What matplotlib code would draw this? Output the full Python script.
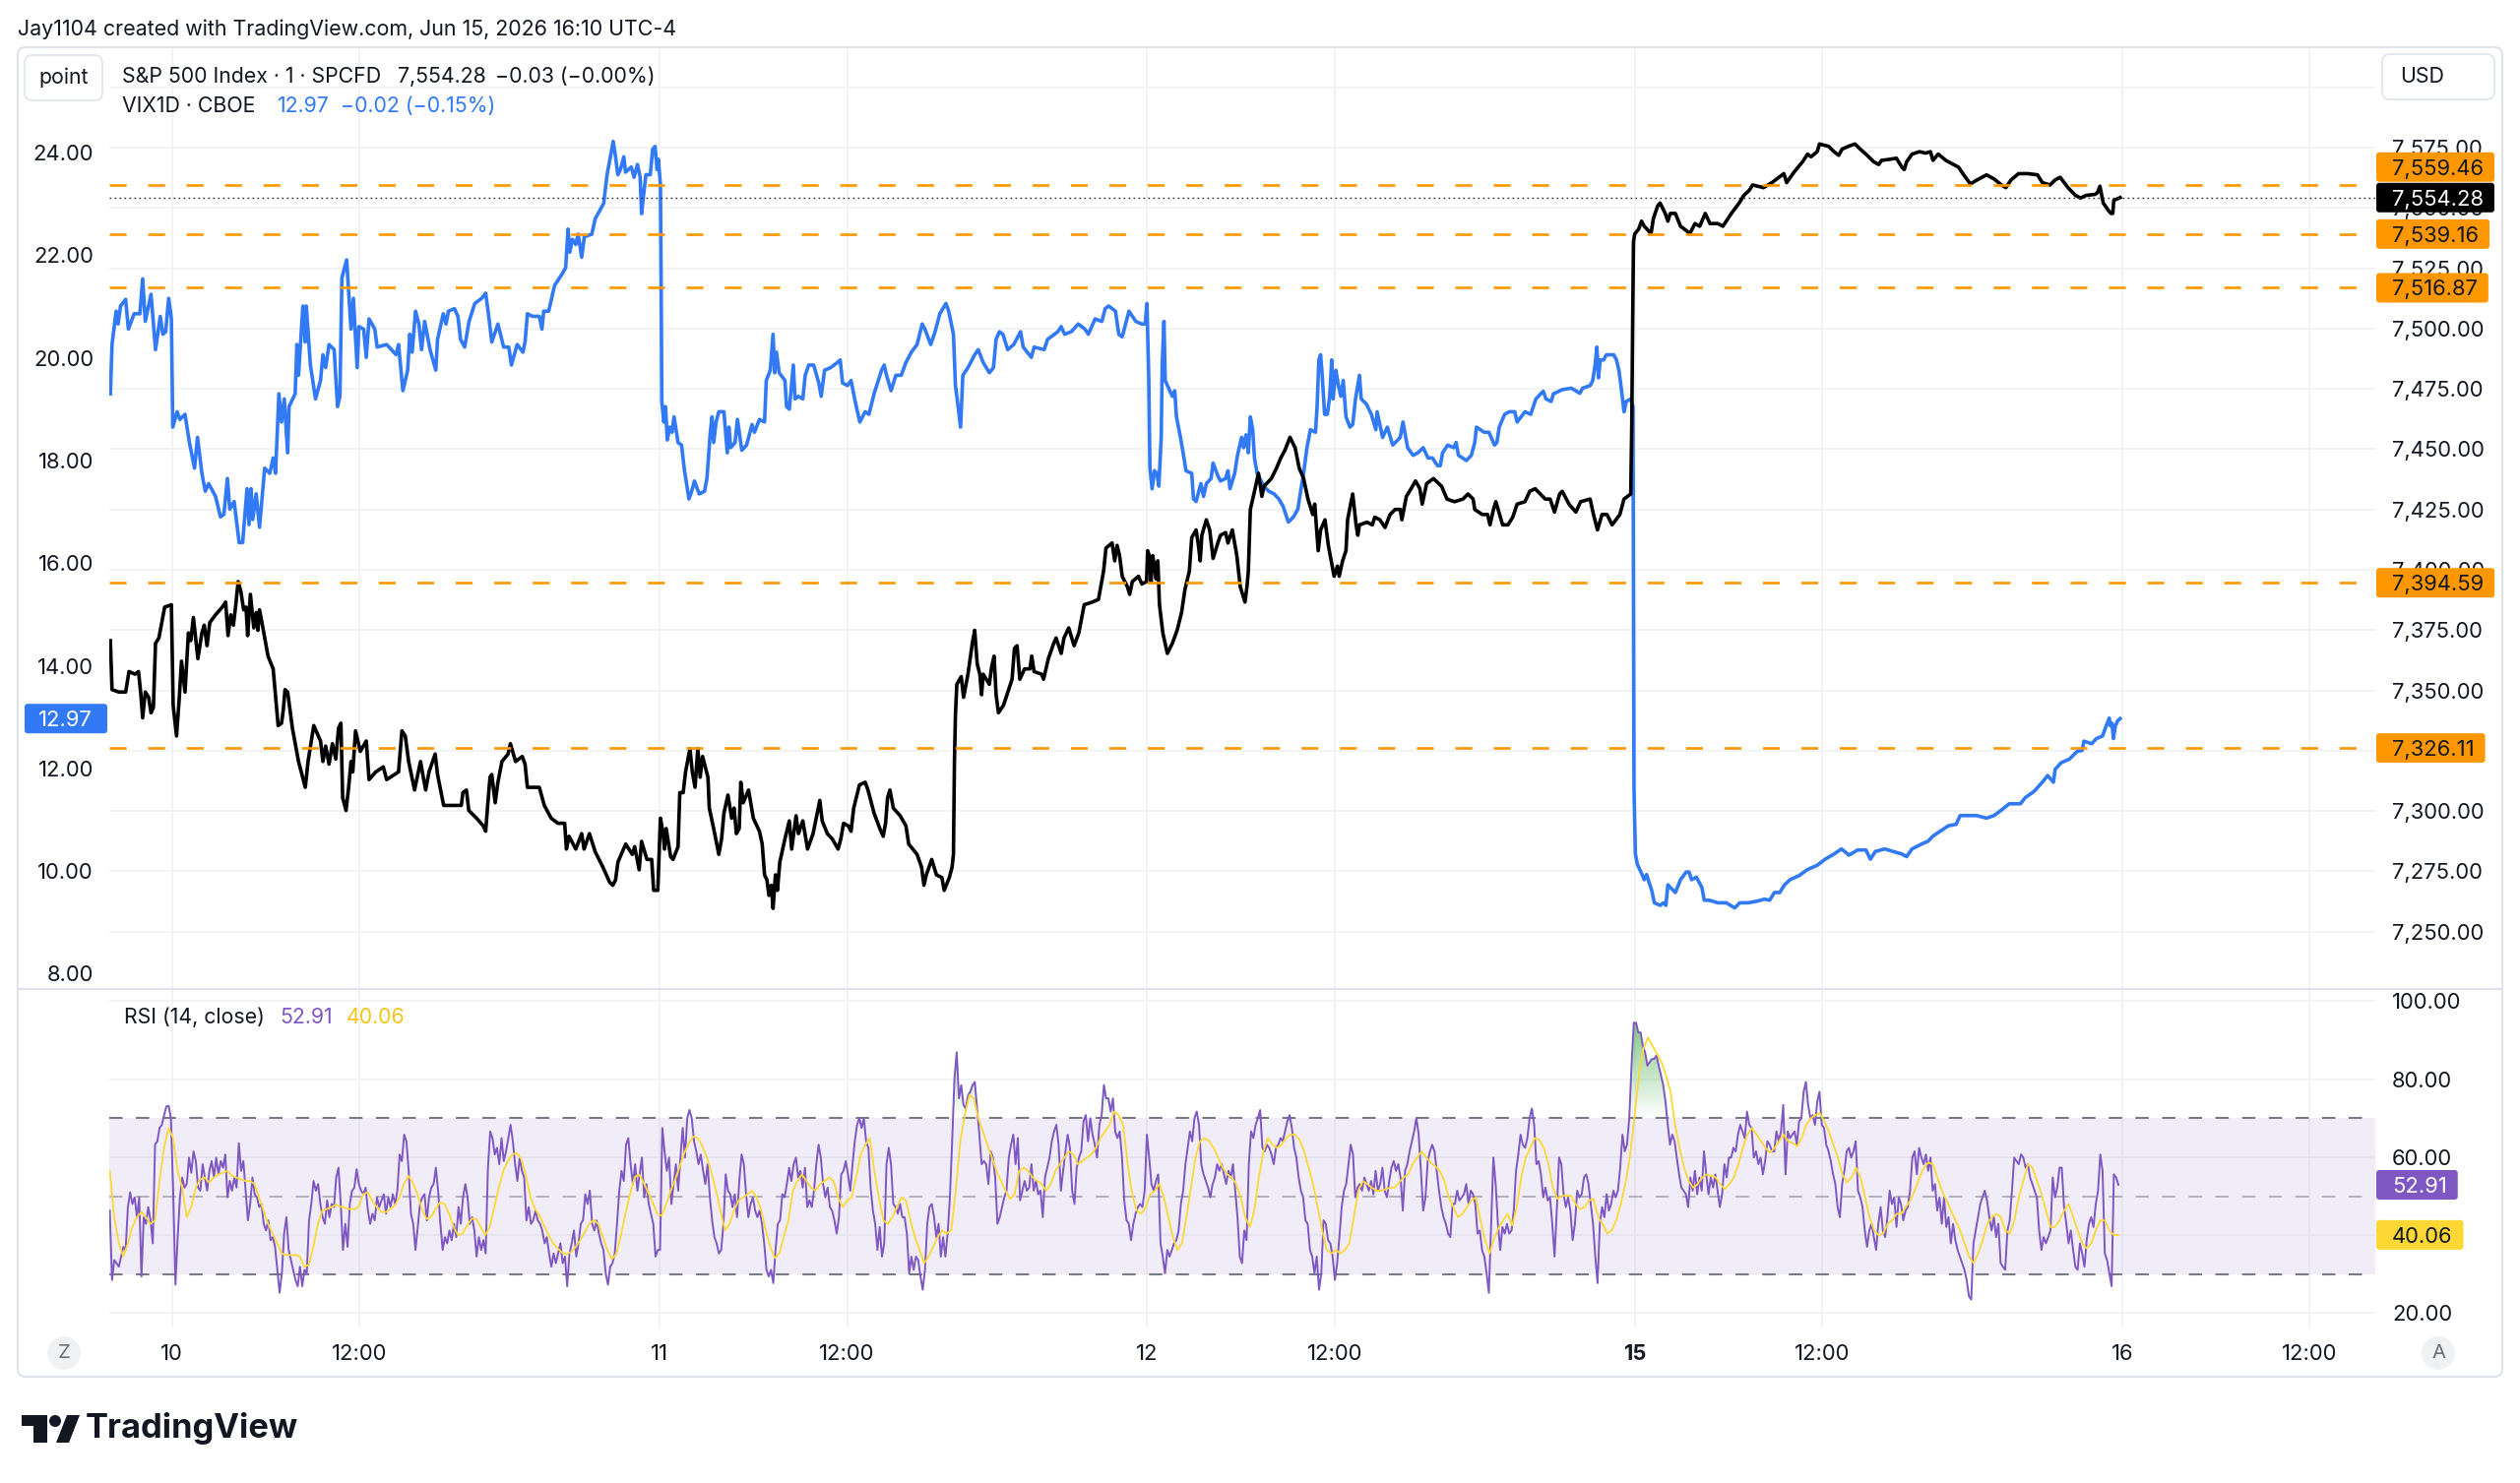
import numpy as np
import matplotlib
matplotlib.use("Agg")
import matplotlib.pyplot as plt
from matplotlib.patches import FancyBboxPatch, Circle, Polygon, Rectangle
from matplotlib.lines import Line2D
from matplotlib.path import Path
from matplotlib.colors import LinearSegmentedColormap
from matplotlib.transforms import IdentityTransform

plt.rcParams['font.family'] = ['Inter', 'DejaVu Sans']

W, H = 2560, 1507

# ---------------- data (minutes of regular session from Jun 10 open) ----------------
header = "Jay1104 created with TradingView.com, Jun 15, 2026 16:10 UTC-4"

time_ticks = [0, 150, 390, 540, 780, 930, 1170, 1320, 1560, 1710]
time_labels = ['10', '12:00', '11', '12:00', '12', '12:00', '15', '12:00', '16', '12:00']

spx_levels = [7559.46, 7539.16, 7516.87, 7394.59, 7326.11]
spx_last = 7554.28
vix_last = 12.97
rsi_last = 52.91
rsi_ma_last = 40.06

spx_ticks = np.arange(7250, 7601, 25)
vix_ticks = np.arange(8, 25, 2)
rsi_ticks = [20, 40, 60, 80, 100]

vix_points = [
    (-49.3, 19.30), (-48.0, 20.26), (-44.7, 20.91), (-43.1, 20.66), (-41.2, 21.01), (-37.1, 21.14),
    (-34.9, 20.56), (-30.3, 20.86), (-25.7, 20.86), (-23.5, 21.54), (-21.4, 20.71), (-16.8, 21.24),
    (-13.2, 20.16), (-9.4, 20.81), (-7.3, 20.46), (-5.1, 20.51), (-2.7, 21.16), (-0.5, 20.76),
    (0.6, 18.65), (4.1, 18.95), (6.3, 18.80), (10.4, 18.90), (13.9, 18.35), (18.0, 17.85),
    (20.4, 18.45), (23.9, 17.75), (26.6, 17.40), (29.3, 17.55), (34.8, 17.30), (38.8, 16.90),
    (41.5, 16.95), (44.3, 17.65), (46.2, 17.05), (49.7, 17.20), (53.7, 16.40), (56.5, 16.40),
    (60.0, 17.45), (61.6, 16.75), (63.2, 17.45), (64.6, 16.85), (67.3, 17.35), (70.0, 16.70),
    (74.1, 17.85), (78.2, 17.75), (80.9, 18.05), (82.8, 17.75), (85.5, 19.30), (87.6, 18.75),
    (89.8, 19.20), (92.5, 18.15), (93.6, 19.05), (98.5, 19.30), (99.9, 20.26), (101.2, 19.66),
    (104.7, 21.01), (106.6, 20.31), (107.4, 21.01), (110.7, 19.86), (114.8, 19.20), (118.8, 19.56),
    (120.7, 20.06), (122.9, 19.81), (125.6, 20.26), (129.7, 20.16), (132.4, 19.05), (134.3, 19.25),
    (135.9, 21.56), (139.7, 21.91), (143.2, 20.56), (145.1, 21.16), (148.1, 19.81), (149.5, 20.61),
    (153.3, 20.56), (155.4, 20.01), (157.6, 20.76), (162.2, 20.56), (164.1, 20.21), (171.7, 20.26),
    (179.3, 20.06), (181.2, 20.26), (184.7, 19.36), (188.5, 19.76), (190.2, 20.46), (192.1, 20.11),
    (194.8, 20.91), (197.5, 20.66), (199.6, 20.16), (202.1, 20.71), (206.4, 20.16), (211.0, 19.76),
    (212.4, 20.36), (217.0, 20.86), (219.2, 20.66), (221.1, 20.91), (225.9, 20.96), (228.7, 20.81),
    (230.8, 20.36), (234.1, 20.21), (237.6, 20.71), (242.2, 21.06), (247.7, 21.16), (250.9, 21.26),
    (253.1, 20.86), (255.8, 20.31), (260.7, 20.66), (265.3, 20.21), (269.4, 20.21), (271.5, 19.86),
    (276.1, 20.26), (280.7, 20.11), (282.4, 20.31), (284.3, 20.86), (288.3, 20.81), (293.8, 20.81),
    (295.9, 20.56), (297.3, 20.91), (301.3, 20.91), (306.0, 21.41), (312.7, 21.66), (314.9, 21.76),
    (316.8, 22.51), (318.2, 22.06), (320.3, 22.31), (323.0, 22.21), (324.9, 22.41), (327.7, 21.96),
    (329.8, 22.36), (335.8, 22.41), (338.5, 22.71), (345.3, 23.01), (348.0, 23.57), (350.7, 23.92),
    (352.9, 24.22), (354.8, 23.92), (356.6, 23.57), (358.7, 23.67), (361.4, 23.92), (362.8, 23.62),
    (367.4, 23.72), (369.6, 23.52), (372.3, 23.77), (374.5, 23.52), (375.6, 22.81), (377.2, 23.17),
    (379.1, 23.57), (382.6, 23.57), (384.5, 24.07), (386.4, 24.12), (388.0, 23.67), (389.1, 23.87),
    (390.7, 23.37), (391.3, 21.36), (391.8, 19.16), (393.4, 18.75), (394.8, 19.05), (396.2, 18.40),
    (398.1, 18.65), (400.0, 18.55), (401.6, 18.85), (404.8, 18.35), (407.6, 18.30), (409.7, 17.85),
    (411.6, 17.55), (413.5, 17.25), (415.7, 17.40), (417.9, 17.60), (421.7, 17.35), (426.0, 17.40),
    (427.9, 17.65), (430.6, 18.55), (432.0, 18.85), (433.3, 18.35), (435.2, 18.75), (437.4, 18.95),
    (441.5, 18.95), (444.2, 18.15), (445.5, 18.65), (446.9, 18.25), (450.4, 18.35), (452.3, 18.80),
    (455.8, 18.20), (459.6, 18.30), (464.0, 18.70), (465.9, 18.55), (469.9, 18.80), (474.0, 18.75),
    (475.4, 19.56), (478.6, 19.76), (480.8, 20.46), (482.1, 19.71), (483.5, 20.11), (485.7, 19.71),
    (490.3, 19.56), (491.6, 19.05), (493.8, 19.00), (497.0, 19.86), (498.4, 19.20), (501.1, 19.25),
    (504.6, 19.20), (506.5, 19.66), (509.3, 19.86), (513.3, 19.86), (517.4, 19.51), (519.3, 19.25),
    (522.0, 19.76), (526.9, 19.81), (532.3, 19.91), (534.5, 19.96), (536.4, 19.51), (540.4, 19.46),
    (543.2, 19.56), (546.4, 19.16), (550.2, 18.75), (554.5, 18.95), (557.5, 18.90), (561.6, 19.30),
    (567.6, 19.76), (569.7, 19.86), (571.6, 19.66), (575.2, 19.36), (579.0, 19.66), (583.3, 19.66),
    (587.1, 19.91), (591.4, 20.11), (596.0, 20.26), (600.1, 20.66), (602.3, 20.56), (606.9, 20.26),
    (610.4, 20.51), (614.2, 20.86), (619.1, 21.06), (621.3, 20.91), (625.1, 20.46), (626.7, 19.46),
    (628.6, 19.10), (630.8, 18.65), (632.6, 19.66), (636.7, 19.81), (642.1, 20.06), (644.9, 20.16),
    (648.9, 19.91), (653.8, 19.71), (657.1, 19.81), (659.2, 20.36), (661.9, 20.51), (664.7, 20.46),
    (668.5, 20.16), (673.3, 20.26), (678.8, 20.51), (680.9, 20.21), (687.4, 20.01), (689.6, 20.21),
    (697.7, 20.16), (700.4, 20.36), (708.6, 20.51), (711.3, 20.61), (714.0, 20.46), (719.4, 20.51),
    (724.9, 20.66), (730.3, 20.56), (733.0, 20.46), (738.4, 20.76), (743.8, 20.71), (746.5, 20.96),
    (749.3, 21.01), (754.7, 20.91), (757.4, 20.46), (760.1, 20.41), (762.8, 20.66), (765.5, 20.91),
    (771.0, 20.71), (775.8, 20.66), (778.5, 20.66), (779.9, 21.06), (781.3, 19.66), (782.3, 17.85),
    (784.0, 17.45), (785.9, 17.80), (787.8, 17.75), (789.4, 17.50), (791.3, 18.45), (792.1, 19.86),
    (793.5, 20.71), (794.5, 19.56), (798.1, 19.36), (800.2, 19.25), (802.1, 19.36), (803.5, 18.85),
    (806.7, 18.45), (809.5, 18.05), (811.1, 17.80), (815.7, 17.75), (817.1, 17.25), (819.2, 17.20),
    (823.0, 17.55), (825.2, 17.30), (827.4, 17.55), (831.2, 17.65), (832.8, 17.95), (836.6, 17.70),
    (838.7, 17.60), (842.8, 17.65), (844.7, 17.80), (846.3, 17.45), (850.1, 17.75), (852.3, 18.10),
    (855.6, 18.45), (857.2, 18.25), (859.1, 18.50), (861.0, 18.15), (862.6, 18.85), (864.5, 18.60),
    (865.9, 18.05), (868.0, 17.75), (873.5, 17.50), (877.3, 17.40), (881.6, 17.35), (885.4, 17.25),
    (888.9, 17.10), (893.0, 16.80), (897.1, 16.90), (900.6, 17.05), (902.5, 17.35), (905.2, 17.75),
    (907.9, 18.25), (910.6, 18.60), (914.7, 18.55), (916.0, 19.05), (917.4, 19.96), (918.8, 20.06),
    (920.1, 19.66), (922.0, 18.90), (924.2, 18.90), (926.1, 19.25), (927.7, 19.96), (928.8, 19.20),
    (931.0, 19.76), (933.1, 19.46), (935.0, 19.25), (936.9, 19.56), (939.1, 18.85), (942.3, 18.65),
    (944.5, 18.70), (946.7, 19.20), (949.9, 19.66), (951.3, 19.20), (955.4, 19.10), (959.4, 18.90),
    (963.0, 18.60), (964.0, 18.95), (968.4, 18.45), (972.2, 18.65), (976.5, 18.30), (982.5, 18.45),
    (984.7, 18.75), (988.4, 18.25), (992.8, 18.10), (996.6, 18.15), (1000.9, 18.25), (1004.7, 18.05),
    (1008.2, 18.05), (1012.3, 17.90), (1014.5, 17.90), (1016.4, 18.15), (1020.4, 18.30), (1025.3, 18.25),
    (1027.2, 18.35), (1029.1, 18.10), (1035.4, 18.00), (1039.4, 18.10), (1042.1, 18.35), (1043.5, 18.65),
    (1049.7, 18.55), (1053.5, 18.55), (1057.9, 18.30), (1059.8, 18.35), (1061.7, 18.65), (1066.0, 18.90),
    (1069.8, 18.95), (1074.1, 18.95), (1076.0, 18.75), (1082.3, 18.95), (1086.9, 18.90), (1091.0, 19.20),
    (1096.9, 19.35), (1099.1, 19.20), (1103.2, 19.15), (1105.1, 19.30), (1112.1, 19.38), (1119.4, 19.41),
    (1126.2, 19.31), (1128.4, 19.41), (1134.4, 19.46), (1136.5, 19.56), (1138.4, 19.86), (1139.8, 20.21),
    (1141.1, 19.61), (1142.5, 19.96), (1145.2, 19.96), (1147.4, 20.06), (1153.3, 20.06), (1155.5, 19.96),
    (1157.4, 19.76), (1158.8, 19.51), (1160.1, 19.25), (1161.5, 18.95), (1163.3, 19.15), (1166.8, 19.20),
    (1168.7, 19.05), (1169.5, 11.63), (1170.6, 10.33), (1172.2, 10.13), (1176.0, 9.93), (1177.7, 9.83),
    (1179.6, 9.93), (1181.5, 9.78), (1183.6, 9.63), (1185.8, 9.38), (1190.4, 9.33), (1193.1, 9.38),
    (1195.0, 9.33), (1196.6, 9.73), (1198.5, 9.68), (1202.6, 9.58), (1206.7, 9.83), (1211.3, 9.98),
    (1213.5, 9.98), (1215.6, 9.83), (1219.4, 9.88), (1223.8, 9.68), (1225.7, 9.43), (1229.7, 9.43),
    (1236.5, 9.38), (1243.3, 9.38), (1250.1, 9.28), (1254.1, 9.38), (1260.9, 9.38), (1267.7, 9.41),
    (1273.7, 9.45), (1278.0, 9.43), (1281.8, 9.58), (1286.1, 9.58), (1289.9, 9.73), (1294.3, 9.83),
    (1301.6, 9.91), (1308.4, 10.03), (1316.0, 10.11), (1322.5, 10.23), (1329.5, 10.33), (1335.5, 10.43),
    (1341.5, 10.31), (1348.5, 10.41), (1355.0, 10.41), (1358.6, 10.23), (1362.6, 10.38), (1370.2, 10.43),
    (1376.7, 10.38), (1383.8, 10.33), (1387.6, 10.28), (1391.9, 10.43), (1400.0, 10.53), (1404.7, 10.58),
    (1408.7, 10.68), (1414.7, 10.78), (1420.9, 10.88), (1427.2, 10.91), (1430.4, 11.08), (1436.4, 11.08),
    (1443.4, 11.08), (1451.6, 11.03), (1457.5, 11.08), (1463.0, 11.18), (1469.7, 11.31), (1478.7, 11.31),
    (1482.5, 11.43), (1489.5, 11.55), (1496.1, 11.73), (1500.4, 11.86), (1505.0, 11.73), (1506.4, 11.98),
    (1511.2, 12.11), (1517.8, 12.18), (1524.0, 12.33), (1528.0, 12.35), (1529.4, 12.53), (1535.6, 12.48),
    (1539.4, 12.58), (1544.3, 12.63), (1546.5, 12.78), (1549.7, 12.98), (1550.6, 12.83), (1551.9, 12.88),
    (1553.0, 12.58), (1554.6, 12.83), (1556.5, 12.93), (1558.4, 12.97),
]

spx_points = [
    (-49.3, 7370.6), (-48.0, 7350.3), (-42.5, 7349.3), (-37.1, 7349.3), (-34.4, 7357.8), (-29.5, 7356.7),
    (-26.8, 7357.8), (-24.9, 7348.2), (-23.5, 7338.6), (-21.4, 7349.3), (-18.7, 7347.1), (-16.8, 7340.7),
    (-14.9, 7342.9), (-13.2, 7369.5), (-10.5, 7371.7), (-8.6, 7377.0), (-5.9, 7384.5), (-0.5, 7385.5),
    (0.9, 7343.9), (3.6, 7331.1), (5.7, 7346.1), (7.6, 7362.1), (10.4, 7349.3), (13.1, 7373.8),
    (15.0, 7370.6), (17.1, 7380.2), (20.7, 7363.1), (23.9, 7373.8), (25.8, 7377.0), (28.0, 7368.5),
    (30.2, 7378.1), (34.8, 7381.3), (40.2, 7384.5), (42.9, 7386.6), (44.8, 7372.7), (47.0, 7381.3),
    (49.1, 7377.0), (51.0, 7385.5), (52.9, 7395.1), (55.1, 7390.9), (57.3, 7383.4), (59.2, 7384.5),
    (60.5, 7372.7), (62.7, 7389.8), (65.4, 7375.9), (67.3, 7382.3), (68.7, 7374.9), (70.0, 7383.4),
    (72.7, 7375.9), (76.8, 7364.2), (80.9, 7358.9), (84.9, 7335.4), (87.6, 7336.4), (89.0, 7341.8),
    (90.4, 7350.3), (92.5, 7349.3), (96.3, 7334.3), (101.2, 7320.5), (106.6, 7309.8), (108.8, 7320.5),
    (113.4, 7335.4), (118.8, 7329.0), (120.7, 7320.5), (122.9, 7326.9), (125.6, 7319.4), (128.3, 7327.9),
    (131.0, 7321.5), (133.2, 7334.3), (135.1, 7336.4), (136.5, 7305.5), (139.2, 7300.2), (141.3, 7309.8),
    (143.2, 7320.5), (144.6, 7316.2), (146.8, 7333.2), (150.6, 7324.7), (155.4, 7329.0), (157.6, 7313.0),
    (163.0, 7316.2), (169.0, 7318.3), (171.7, 7313.0), (181.2, 7316.2), (183.9, 7333.2), (186.6, 7331.1),
    (189.3, 7320.5), (194.0, 7308.7), (198.8, 7320.5), (201.0, 7314.0), (202.9, 7308.7), (205.6, 7316.2),
    (210.5, 7323.6), (212.4, 7315.1), (217.3, 7302.3), (223.2, 7302.3), (231.4, 7302.3), (232.7, 7307.6),
    (235.5, 7308.7), (237.4, 7300.2), (243.6, 7297.0), (249.0, 7293.8), (250.9, 7291.6), (252.5, 7302.3),
    (254.4, 7314.0), (255.8, 7315.1), (258.5, 7303.4), (260.7, 7311.9), (263.9, 7320.5), (268.8, 7323.6),
    (270.7, 7327.9), (274.8, 7320.5), (280.2, 7322.6), (282.4, 7319.4), (284.3, 7309.8), (289.1, 7309.8),
    (293.8, 7309.8), (297.8, 7302.3), (303.3, 7297.0), (308.7, 7294.9), (314.1, 7294.9), (315.5, 7284.2),
    (317.6, 7289.5), (323.0, 7284.2), (327.7, 7290.6), (329.6, 7284.2), (333.9, 7290.6), (338.5, 7283.1),
    (344.7, 7276.7), (350.2, 7270.3), (352.6, 7269.2), (354.8, 7271.4), (356.7, 7278.8), (362.9, 7286.3),
    (365.5, 7284.2), (368.2, 7282.0), (370.1, 7285.2), (373.7, 7275.6), (375.6, 7287.4), (379.9, 7279.9),
    (383.7, 7279.9), (385.3, 7267.1), (388.6, 7267.1), (390.7, 7297.0), (392.6, 7291.6), (394.0, 7284.2),
    (395.3, 7292.7), (398.9, 7281.0), (400.8, 7279.9), (404.8, 7285.2), (406.2, 7307.6), (408.9, 7307.6),
    (410.8, 7316.2), (414.3, 7325.8), (416.2, 7316.2), (418.4, 7309.8), (420.6, 7325.8), (422.5, 7314.0),
    (424.4, 7322.6), (428.7, 7314.0), (429.8, 7301.2), (433.3, 7292.7), (437.4, 7282.0), (439.6, 7288.4),
    (441.5, 7299.1), (444.7, 7306.6), (447.7, 7297.0), (449.6, 7301.2), (451.5, 7290.6), (453.7, 7292.7),
    (455.0, 7311.9), (456.9, 7303.4), (461.2, 7308.7), (465.0, 7297.0), (469.9, 7291.6), (472.1, 7286.3),
    (474.0, 7273.5), (475.9, 7271.4), (477.5, 7265.0), (479.4, 7269.2), (480.8, 7259.6), (482.7, 7273.5),
    (484.3, 7267.1), (486.2, 7278.8), (490.3, 7288.4), (493.8, 7295.9), (495.7, 7284.2), (499.2, 7298.0),
    (501.1, 7290.6), (504.6, 7295.9), (508.4, 7284.2), (512.8, 7290.6), (516.6, 7300.2), (518.2, 7304.4),
    (520.1, 7295.9), (524.2, 7290.6), (528.2, 7288.4), (532.8, 7284.2), (535.0, 7288.4), (537.2, 7294.9),
    (541.0, 7293.8), (543.2, 7291.6), (545.3, 7301.2), (549.9, 7310.8), (554.5, 7311.9), (556.7, 7308.7),
    (561.6, 7299.1), (566.2, 7292.7), (568.9, 7289.5), (570.8, 7294.9), (572.4, 7305.5), (574.3, 7308.7),
    (577.0, 7301.2), (582.5, 7298.0), (587.1, 7293.8), (589.3, 7286.3), (596.0, 7282.0), (599.6, 7276.7),
    (601.5, 7269.2), (603.4, 7273.5), (607.7, 7279.9), (611.5, 7273.5), (615.8, 7272.4), (617.7, 7267.1),
    (621.8, 7272.4), (624.0, 7276.7), (625.1, 7282.0), (625.9, 7320.5), (626.7, 7339.7), (627.8, 7352.5),
    (631.3, 7355.7), (633.2, 7347.1), (636.7, 7356.7), (640.2, 7369.5), (642.1, 7374.9), (644.1, 7361.0),
    (646.2, 7356.7), (647.6, 7348.2), (648.9, 7356.7), (653.8, 7352.5), (655.7, 7359.9), (657.6, 7364.2),
    (659.2, 7348.2), (661.1, 7340.7), (665.2, 7343.9), (669.3, 7350.3), (672.0, 7354.6), (673.9, 7367.4),
    (676.0, 7368.5), (678.2, 7354.6), (682.0, 7358.9), (686.3, 7358.9), (687.7, 7364.2), (689.6, 7357.8),
    (695.6, 7356.7), (697.2, 7354.6), (701.0, 7363.1), (705.3, 7369.5), (707.2, 7371.7), (711.3, 7365.3),
    (713.5, 7371.7), (717.3, 7375.9), (721.6, 7368.5), (725.4, 7373.8), (729.7, 7385.5), (736.3, 7386.6),
    (741.1, 7387.7), (743.3, 7394.1), (745.2, 7399.4), (747.1, 7409.0), (752.0, 7411.1), (754.1, 7403.7),
    (756.0, 7410.1), (758.0, 7405.8), (760.1, 7397.3), (764.2, 7393.0), (766.1, 7389.8), (768.2, 7395.1),
    (773.1, 7397.3), (775.8, 7394.1), (779.6, 7395.1), (780.4, 7407.9), (781.8, 7405.8), (783.2, 7395.1),
    (784.5, 7405.8), (785.9, 7401.5), (787.2, 7396.2), (788.6, 7403.7), (789.9, 7385.5), (792.6, 7373.8),
    (796.2, 7365.3), (800.2, 7369.5), (804.0, 7374.9), (807.6, 7382.3), (810.3, 7391.9), (813.8, 7399.4),
    (815.7, 7413.3), (819.2, 7416.5), (821.1, 7410.1), (822.5, 7403.7), (823.8, 7414.3), (827.4, 7420.7),
    (830.1, 7416.5), (832.8, 7404.7), (836.6, 7411.1), (838.7, 7414.3), (842.8, 7415.4), (844.7, 7411.1),
    (848.2, 7416.5), (851.8, 7405.8), (854.5, 7393.0), (858.3, 7386.6), (859.9, 7393.0), (861.0, 7399.4),
    (862.6, 7425.0), (866.4, 7433.6), (869.1, 7440.0), (871.8, 7430.4), (873.5, 7434.6), (879.4, 7437.8),
    (883.5, 7442.1), (887.0, 7446.4), (890.3, 7449.6), (894.3, 7454.9), (898.4, 7450.6), (901.7, 7442.1),
    (905.2, 7437.8), (908.7, 7429.3), (912.5, 7422.9), (914.1, 7427.2), (916.9, 7407.9), (918.8, 7416.5),
    (922.3, 7420.7), (925.0, 7410.1), (929.6, 7397.3), (932.3, 7401.5), (933.7, 7397.3), (936.4, 7403.7),
    (939.1, 7407.9), (940.4, 7420.7), (943.2, 7428.2), (944.5, 7431.4), (947.2, 7418.6), (948.6, 7414.3),
    (949.9, 7418.6), (955.9, 7419.7), (960.2, 7418.6), (962.1, 7421.8), (966.2, 7420.7), (970.3, 7417.5),
    (974.4, 7422.9), (978.4, 7425.0), (982.5, 7425.0), (983.8, 7420.7), (987.4, 7430.4), (991.2, 7433.6),
    (994.7, 7436.8), (998.2, 7433.6), (1000.1, 7427.2), (1003.6, 7435.7), (1009.1, 7437.8), (1015.6, 7434.6),
    (1019.9, 7429.3), (1025.9, 7428.2), (1032.7, 7429.3), (1036.7, 7431.4), (1040.8, 7429.3), (1042.1, 7425.0),
    (1048.1, 7422.9), (1052.4, 7422.9), (1054.3, 7418.6), (1057.1, 7425.0), (1059.0, 7428.2), (1064.4, 7418.6),
    (1068.7, 7418.6), (1072.5, 7421.8), (1076.0, 7427.2), (1082.3, 7428.2), (1086.1, 7432.5), (1090.4, 7433.6),
    (1098.5, 7429.3), (1102.4, 7429.3), (1105.9, 7423.9), (1110.0, 7431.4), (1112.1, 7432.5), (1117.5, 7427.2),
    (1123.0, 7423.9), (1126.8, 7428.2), (1134.4, 7429.3), (1137.1, 7422.9), (1140.3, 7416.5), (1143.9, 7422.9),
    (1147.9, 7422.9), (1152.0, 7418.6), (1158.2, 7422.9), (1161.5, 7429.3), (1166.9, 7431.4), (1167.7, 7459.2),
    (1168.5, 7506.1), (1169.1, 7536.0), (1170.1, 7539.2), (1173.3, 7541.3), (1175.5, 7544.5), (1177.7, 7542.4),
    (1181.5, 7540.3), (1183.1, 7539.2), (1185.0, 7545.6), (1188.5, 7550.9), (1190.4, 7552.0), (1194.5, 7547.7),
    (1196.6, 7544.5), (1198.5, 7547.7), (1202.6, 7547.7), (1206.7, 7542.4), (1212.1, 7540.3), (1214.0, 7539.2),
    (1218.3, 7543.5), (1222.1, 7542.4), (1226.5, 7547.7), (1230.3, 7543.5), (1236.5, 7543.5), (1240.6, 7542.4),
    (1247.4, 7547.7), (1253.6, 7552.0), (1257.4, 7555.2), (1261.7, 7557.3), (1264.4, 7559.5), (1273.1, 7558.4),
    (1279.9, 7560.5), (1287.2, 7563.3), (1289.4, 7564.2), (1291.6, 7560.5), (1297.5, 7564.8), (1304.3, 7569.1),
    (1308.4, 7572.3), (1311.1, 7571.2), (1316.0, 7573.3), (1317.9, 7576.5), (1325.2, 7575.5), (1329.5, 7573.3),
    (1333.3, 7571.8), (1336.0, 7574.4), (1340.9, 7575.5), (1346.3, 7576.5), (1350.4, 7574.4), (1355.0, 7572.3),
    (1361.3, 7569.1), (1365.3, 7568.0), (1367.5, 7569.7), (1373.5, 7570.1), (1379.4, 7570.6), (1383.8, 7566.9),
    (1385.7, 7565.9), (1387.6, 7569.1), (1391.9, 7572.3), (1397.9, 7573.3), (1402.8, 7572.7), (1406.6, 7573.3),
    (1408.7, 7569.7), (1412.8, 7572.3), (1419.0, 7569.7), (1425.0, 7568.0), (1429.1, 7566.9), (1432.6, 7564.2),
    (1438.6, 7559.9), (1442.6, 7561.2), (1451.6, 7563.7), (1457.5, 7562.0), (1463.5, 7559.5), (1467.0, 7558.4),
    (1471.1, 7561.6), (1477.1, 7564.2), (1484.7, 7564.2), (1492.3, 7563.7), (1496.1, 7560.5), (1502.3, 7559.5),
    (1506.4, 7561.6), (1510.4, 7562.7), (1516.7, 7558.4), (1522.6, 7555.2), (1526.7, 7554.1), (1531.3, 7555.2),
    (1538.4, 7555.6), (1540.3, 7556.3), (1542.2, 7559.0), (1544.9, 7552.0), (1549.2, 7548.8), (1551.1, 7547.7),
    (1552.5, 7547.7), (1553.3, 7553.1), (1558.4, 7554.28),
]

# RSI(14) sampled evenly from minute -49.8 to 1557.0
rsi_span = (-49.8, 1557.0)
rsi_values = [
    46.3, 28.5, 33.6, 32.8, 31.9, 34.5, 37.0, 36.2, 47.2, 51.0,
    48.0, 49.7, 44.6, 49.7, 29.4, 44.6, 42.9, 47.2, 43.8, 37.9,
    63.2, 64.1, 67.5, 68.3, 70.8, 73.0, 73.2, 70.0, 51.4, 27.3,
    39.5, 49.7, 54.8, 52.2, 53.1, 59.9, 56.0, 61.5, 59.0, 52.2,
    51.4, 58.2, 54.8, 51.4, 56.5, 59.0, 54.8, 59.9, 55.6, 59.0,
    57.3, 60.7, 49.7, 53.9, 51.4, 54.8, 52.2, 63.6, 56.5, 59.0,
    51.4, 43.8, 48.0, 54.8, 50.5, 49.7, 47.2, 48.0, 42.9, 41.2,
    43.8, 38.7, 39.5, 37.0, 31.1, 25.2, 30.2, 40.4, 44.6, 36.2,
    33.6, 31.1, 28.5, 26.9, 31.9, 26.9, 31.1, 30.2, 43.8, 48.0,
    53.9, 51.4, 53.1, 48.0, 44.6, 42.9, 48.9, 44.6, 48.0, 47.2,
    54.8, 57.3, 48.0, 36.2, 42.9, 37.0, 48.0, 51.4, 52.2, 56.9,
    53.1, 51.4, 50.5, 52.2, 46.3, 42.9, 45.5, 43.8, 49.7, 47.2,
    48.9, 50.5, 45.5, 49.7, 47.2, 50.5, 48.0, 51.4, 60.7, 59.0,
    65.8, 64.1, 56.5, 45.5, 42.9, 36.2, 42.1, 48.0, 49.7, 50.5,
    43.8, 49.7, 52.2, 53.1, 57.3, 51.4, 42.9, 36.2, 39.5, 37.9,
    41.2, 38.7, 42.9, 39.5, 47.2, 42.9, 49.7, 53.1, 49.7, 42.9,
    44.6, 41.2, 34.5, 39.5, 36.2, 38.7, 35.3, 57.3, 66.6, 64.9,
    60.7, 62.4, 58.2, 64.9, 59.0, 61.5, 64.9, 68.3, 64.1, 58.2,
    53.9, 59.9, 56.5, 54.8, 43.8, 47.2, 42.9, 43.8, 46.3, 43.8,
    42.9, 41.2, 37.9, 39.5, 35.3, 31.9, 35.3, 32.8, 35.3, 37.9,
    32.8, 34.5, 26.9, 35.3, 37.9, 41.2, 34.5, 37.9, 42.9, 43.8,
    50.5, 48.0, 51.4, 42.9, 41.2, 43.8, 40.4, 37.9, 36.2, 30.2,
    27.3, 31.9, 32.8, 35.3, 42.9, 51.4, 56.5, 53.9, 63.2, 64.9,
    58.2, 53.1, 58.2, 51.4, 55.6, 59.9, 49.7, 53.1, 48.0, 45.5,
    42.9, 34.5, 36.2, 36.2, 67.5, 61.5, 56.5, 59.9, 48.0, 53.1,
    58.2, 51.4, 59.9, 67.5, 59.9, 70.0, 72.1, 70.0, 64.1, 61.5,
    58.2, 60.7, 56.5, 53.1, 58.2, 49.7, 43.8, 39.5, 37.9, 35.3,
    36.2, 42.9, 55.6, 51.4, 50.5, 47.2, 50.5, 44.6, 53.9, 60.7,
    58.2, 50.5, 44.6, 48.0, 49.7, 46.3, 44.6, 46.3, 42.9, 37.9,
    31.1, 29.4, 31.1, 27.7, 36.2, 42.9, 43.8, 50.5, 49.7, 53.1,
    57.3, 53.9, 58.2, 59.9, 54.8, 56.5, 52.2, 57.3, 47.2, 48.9,
    47.2, 51.4, 58.2, 63.2, 59.9, 53.1, 49.7, 52.2, 47.2, 46.3,
    43.8, 40.4, 44.6, 55.6, 56.5, 59.0, 55.6, 51.4, 58.2, 64.1,
    68.3, 70.0, 67.5, 70.0, 64.1, 62.4, 52.2, 46.3, 42.9, 36.2,
    42.1, 34.5, 37.9, 58.2, 62.4, 58.2, 48.0, 47.2, 45.5, 48.0,
    44.6, 44.6, 40.4, 30.2, 34.5, 31.1, 34.5, 33.6, 29.4, 26.0,
    31.1, 42.9, 47.2, 48.0, 44.6, 39.5, 42.9, 34.5, 39.5, 34.5,
    40.4, 49.7, 64.1, 80.2, 86.9, 75.1, 78.5, 73.4, 72.5, 75.9,
    76.8, 78.5, 79.3, 72.5, 65.8, 58.2, 59.0, 58.2, 53.1, 61.5,
    59.9, 54.8, 42.9, 44.6, 47.2, 49.7, 51.4, 59.9, 63.2, 65.8,
    58.2, 64.9, 48.9, 51.4, 53.9, 51.4, 52.2, 58.2, 51.4, 53.9,
    50.5, 51.4, 44.6, 54.8, 57.3, 59.9, 64.1, 66.6, 68.3, 63.2,
    51.4, 56.5, 61.5, 65.8, 62.4, 51.4, 48.0, 57.3, 59.9, 61.5,
    69.2, 70.8, 64.1, 70.0, 65.8, 63.2, 59.9, 68.3, 70.8, 78.5,
    75.1, 75.1, 71.7, 75.1, 66.6, 64.9, 66.6, 59.9, 48.9, 43.8,
    42.9, 38.7, 42.9, 45.5, 47.2, 48.0, 47.2, 51.4, 65.8, 59.9,
    53.1, 51.4, 53.9, 55.6, 37.9, 34.5, 30.2, 36.2, 34.5, 36.2,
    37.9, 38.7, 41.2, 48.0, 51.4, 58.2, 62.4, 66.6, 64.1, 70.0,
    71.7, 68.3, 58.2, 55.6, 53.9, 52.2, 49.7, 53.1, 54.8, 58.2,
    56.5, 58.2, 55.6, 53.1, 56.5, 54.8, 58.2, 51.4, 44.6, 34.5,
    32.8, 41.2, 38.7, 58.2, 66.6, 64.9, 68.3, 70.0, 72.1, 62.4,
    61.5, 63.2, 62.4, 60.7, 58.2, 62.4, 63.2, 64.9, 64.1, 66.6,
    69.2, 70.8, 67.5, 62.4, 59.9, 54.8, 51.4, 49.7, 43.8, 42.9,
    36.2, 34.5, 30.2, 34.5, 26.0, 30.2, 43.8, 42.9, 38.7, 37.9,
    34.5, 28.5, 32.8, 39.5, 47.2, 51.4, 53.1, 58.2, 63.2, 60.7,
    49.7, 52.2, 53.1, 51.4, 54.8, 53.1, 51.4, 53.9, 50.5, 56.5,
    51.4, 53.1, 57.3, 51.4, 49.7, 53.9, 57.3, 59.0, 56.5, 58.2,
    54.8, 46.3, 56.5, 58.2, 61.5, 64.1, 66.6, 70.0, 65.8, 56.5,
    46.3, 49.7, 59.0, 61.5, 63.2, 61.5, 56.5, 51.4, 47.2, 44.6,
    42.9, 40.4, 39.5, 48.0, 48.0, 51.4, 48.9, 49.7, 50.5, 53.1,
    48.0, 51.4, 50.5, 48.0,
    40.4, 41.2, 36.2, 34.5, 30.2, 25.2, 42.9, 59.9, 53.1, 42.9,
    36.2, 42.1, 40.4, 42.9, 40.4, 41.2, 46.3, 56.5, 60.7, 65.8,
    63.2, 62.4, 64.9, 70.0, 72.5, 68.3, 58.2, 59.0, 55.6, 49.7,
    52.2, 48.9, 49.7, 42.9, 34.5, 46.3, 59.9, 58.2, 50.5, 47.2,
    49.7, 46.3, 38.7, 42.9, 51.4, 49.7, 50.5, 54.8, 55.6, 53.1,
    48.0, 42.9, 34.5, 27.7, 42.9, 47.2, 44.6, 50.5, 46.3, 48.0,
    51.4, 49.7, 51.4, 57.3, 65.8, 61.5, 63.2, 70.0, 83.5, 94.5,
    94.5, 92.0, 92.0, 88.6, 86.9, 83.5, 84.4, 85.2, 85.2, 86.1,
    83.5, 81.0, 78.5, 74.2, 68.3, 63.2, 65.8, 64.1, 59.9, 55.6,
    52.2, 51.4, 50.5, 47.2, 54.8, 51.4, 56.5, 50.5, 54.8, 51.4,
    61.5, 55.6, 50.5, 54.8, 52.2, 55.6, 51.4, 47.2, 50.5, 58.2,
    54.8, 59.9, 59.9, 62.4, 61.5, 65.8, 68.3, 66.6, 64.9, 71.7,
    68.3, 67.5, 59.9, 61.5, 58.2, 59.9, 55.6, 59.0, 64.1, 63.2,
    61.5, 61.5, 66.6, 64.1, 66.6, 73.4, 55.6, 66.6, 64.9, 65.8,
    66.6, 63.2, 69.2, 70.0, 76.8, 79.3, 73.4, 70.0, 70.8, 68.3,
    74.2, 76.8, 68.3, 67.5, 63.2, 61.5, 59.0, 55.6, 53.1, 47.2,
    44.6, 53.1, 56.5, 61.5, 62.4, 59.9, 61.5, 64.1, 51.4, 49.7,
    47.2, 41.2, 37.0, 41.2, 42.9, 39.5, 36.2, 42.9, 47.2, 41.2,
    39.5, 44.6, 51.4, 48.0, 49.7, 42.1, 49.7, 48.0, 43.8, 46.3,
    47.2, 51.4, 59.9, 61.5, 55.6, 62.4, 59.9, 58.2, 60.7, 56.5,
    59.9, 51.4, 53.1, 46.3, 49.7, 42.9, 49.7, 42.1, 44.6, 37.9,
    42.9, 38.7, 36.2, 34.5, 32.8, 31.1, 28.5, 24.3, 23.5, 37.9,
    41.2, 44.6, 48.0, 49.7, 51.4, 48.9, 44.6, 41.2, 44.6, 39.5,
    42.9, 32.8, 31.9, 31.1, 41.2, 43.8, 51.4, 59.9, 59.0, 58.2,
    60.7, 59.9, 57.3, 58.2, 54.8, 53.1, 51.4, 49.7, 41.2, 36.2,
    39.5, 37.9, 39.5, 41.2, 54.8, 49.7, 52.2, 57.3, 57.3, 47.2,
    42.9, 37.9, 41.2, 36.2, 31.9, 31.1, 37.9, 35.3, 31.9, 38.7,
    42.9, 44.6, 42.1, 48.0, 51.4, 60.7, 56.5, 35.3, 33.6, 30.2,
    26.9, 55.6, 54.8, 52.91,
]

# RSI-based moving average, same span
rsi_ma_values = [
    56.5, 44.6, 37.9, 34.5, 37.9, 42.1, 44.6, 45.9, 44.6, 42.9,
    43.8, 53.9, 62.4, 67.5, 64.9, 56.5, 52.2, 44.6, 47.2, 52.2,
    54.3, 54.8, 53.5, 54.8, 55.6, 56.0, 56.5, 55.2, 54.8, 54.3,
    53.9, 53.9, 53.1, 49.7, 46.3, 42.9, 40.4, 37.9, 35.3, 34.9,
    34.9, 34.9, 34.5, 31.9, 32.4, 37.0, 42.9, 46.3, 46.7, 47.2,
    47.8, 47.3, 47.0, 46.7, 46.6, 47.3, 50.5, 51.0, 48.9, 47.2,
    45.9, 45.9, 46.7, 47.6, 49.7, 53.1, 55.2, 53.5, 50.5, 46.7,
    44.2, 44.6, 46.7, 48.4, 48.0, 45.5, 42.1, 40.0, 40.4, 42.5,
    44.2, 44.2, 42.1, 40.0, 42.1, 47.2, 52.2, 56.5, 59.0, 60.7,
    61.1, 59.4, 55.2, 49.7, 46.7, 45.0, 42.5, 40.0, 37.9, 36.6,
    35.5, 35.1, 35.7, 37.0, 38.7, 40.8, 42.9, 43.9, 42.9, 39.5,
    36.2, 33.8, 35.3, 40.0, 45.5, 50.5, 54.8, 55.6, 53.5, 51.0,
    48.4, 45.5, 45.0, 48.0, 51.4, 54.3, 57.7, 61.1, 63.6, 65.3,
    64.9, 62.8, 59.9, 56.0, 51.4, 46.3, 41.2, 42.9, 46.3, 48.9,
    49.7, 50.5, 51.4, 49.7, 46.3, 41.2, 37.0, 34.1, 35.3, 39.5,
    43.8, 51.4, 53.9, 55.6, 53.9, 52.2, 51.4, 53.1, 53.9, 54.8,
    53.9, 49.7, 47.2, 48.9, 49.7, 54.8, 60.7, 63.2, 64.9, 56.5,
    49.7, 43.8, 42.9, 44.6, 47.2, 49.7, 48.9, 43.8, 39.5, 36.2,
    32.8, 34.5, 37.0, 39.5, 41.2, 40.4, 41.2, 51.4, 64.1, 70.8,
    75.9, 75.1, 70.0, 66.6, 63.2, 59.9, 56.5, 53.9, 51.4, 49.3,
    50.5, 56.5, 57.3, 56.5, 54.8, 53.9, 53.1, 51.4, 53.1, 56.5,
    58.2, 59.9, 61.5, 60.7, 58.2, 59.0, 59.9, 60.7, 62.4, 64.9,
    66.6, 68.3, 71.7, 70.8, 68.3, 58.2, 50.5, 46.3, 45.5, 47.2,
    50.5, 51.4, 53.1, 49.7, 44.6, 39.5, 36.2, 37.9, 44.6, 52.2,
    59.9, 64.1, 64.9, 64.1, 62.4, 59.9, 57.3, 55.6, 54.8, 53.1,
    49.7, 44.6, 42.1, 46.3, 54.8, 61.5, 64.9, 63.2, 62.4, 63.2,
    64.9, 65.8, 65.8, 64.5, 61.5, 57.3, 53.1, 47.2, 41.2, 36.2,
    35.3, 36.2, 35.3, 36.2, 37.9, 44.6, 51.4, 53.9, 53.1, 52.2,
    51.4, 51.4, 51.8, 52.2, 52.2, 53.5, 54.8, 55.6, 58.2, 59.9,
    61.5, 59.9, 58.6, 57.7, 56.5, 53.9, 49.7, 47.2, 44.6, 45.5,
    47.2, 48.9, 49.7,
    43.8, 38.7, 35.3, 39.1, 41.9, 43.8, 45.5, 42.5, 47.2, 54.8,
    59.9, 62.4, 64.9, 64.5, 62.4, 58.2, 52.2, 49.3, 50.1, 50.1,
    50.1, 48.0, 46.7, 47.2, 48.9, 49.3, 44.6, 42.9, 40.4, 41.2,
    43.8, 48.0, 53.1, 59.9, 70.0, 81.0, 87.8, 90.7, 88.6, 86.5,
    84.4, 81.0, 76.8, 68.3, 62.4, 57.3, 53.9, 52.2, 53.1, 54.8,
    55.6, 55.2, 54.8, 53.1, 51.8, 53.1, 54.8, 58.2, 62.4, 65.8,
    67.5, 65.8, 64.1, 62.4, 61.1, 62.4, 64.1, 65.8, 64.1, 63.6,
    62.8, 64.9, 68.3, 70.0, 70.8, 71.3, 69.2, 66.6, 63.2, 59.9,
    55.6, 53.5, 54.8, 57.3, 54.8, 49.7, 44.6, 41.2, 40.0, 40.4,
    42.9, 43.8, 45.5, 45.5, 47.2, 48.9, 51.4, 54.8, 57.3, 58.6,
    58.2, 54.8, 51.4, 48.9, 46.3, 43.8, 41.2, 37.9, 34.5, 32.8,
    35.3, 38.7, 42.9, 44.6, 45.5, 44.6, 41.2, 40.4, 43.8, 49.7,
    53.9, 58.2, 57.3, 53.9, 50.5, 46.3, 42.1, 42.1, 43.8, 46.3,
    48.0, 44.6, 41.2, 37.9, 36.6, 37.9, 41.2, 43.8, 43.8, 41.2,
    40.0, 40.06,
]

# ---------------- style ----------------
TEXT = '#131722'
GRID = '#F0F2F5'
BORDER = '#E0E3EB'
ORANGE = '#FF9800'
BLUE = '#3179F5'
PURPLE = '#7E57C2'
YELLOW = '#FDD835'

fig = plt.figure(figsize=(W / 100, H / 100), dpi=100)
fig.patch.set_facecolor('white')
renderer = fig.canvas.get_renderer()
PX = IdentityTransform()


def rect(x0, y0, x1, y1):
    return [x0 / W, 1 - y1 / H, (x1 - x0) / W, (y1 - y0) / H]


def fit_size(s, width, weight='normal'):
    t = fig.text(0, 0, s, fontsize=20, fontweight=weight)
    w = t.get_window_extent(renderer=renderer).width
    t.remove()
    return 20 * width / w


def ptext(x, y, s, **kw):
    return fig.text(x, H - y, s, transform=PX, **kw)


def pbox(x0, y0, x1, y1, fc, ec='none', r=3, lw=0, z=1):
    p = FancyBboxPatch((x0, H - y1), x1 - x0, y1 - y0,
                       boxstyle=f'round,pad=0,rounding_size={r}',
                       fc=fc, ec=ec, lw=lw, transform=PX, zorder=z)
    fig.add_artist(p)
    return p


AX_FS = fit_size('7,575.00', 92)
LEG_FS = fit_size('RSI (14, close)', 143)
HDR_FS = fit_size(header, 671)

PLOT_L, PLOT_R = 111, 2413
XLIM = (-50.2, 1762.5)

ax_vix = fig.add_axes(rect(PLOT_L, 48, PLOT_R, 1005))
ax_spx = ax_vix.twinx()
ax_rsi = fig.add_axes(rect(PLOT_L, 1006, PLOT_R, 1349))

ax_vix.set_xlim(*XLIM)
ax_vix.set_ylim(7.70, 26.054)
ax_spx.set_ylim(7226.2, 7616.6)
ax_rsi.set_xlim(*XLIM)
ax_rsi.set_ylim(16.3, 102.9)

for a in (ax_vix, ax_spx, ax_rsi):
    for s in a.spines.values():
        s.set_visible(False)
    a.set_facecolor('none')
ax_vix.set_facecolor('white')
ax_rsi.set_facecolor('white')

# gridlines
for t in time_ticks:
    ax_vix.axvline(t, color=GRID, lw=1.3, zorder=0)
    ax_rsi.axvline(t, color=GRID, lw=1.3, zorder=0)
for t in spx_ticks:
    yd = ax_spx.transData.transform((0, t))[1]
    yv = ax_vix.transData.inverted().transform((0, yd))[1]
    ax_vix.axhline(yv, color=GRID, lw=1.3, zorder=0)
for t in rsi_ticks:
    ax_rsi.axhline(t, color=GRID, lw=1.3, zorder=0)


def hidden_by_tag(v, tags, ax, gap=22):
    yv = ax.transData.transform((0, v))[1]
    return any(abs(yv - ax.transData.transform((0, tv))[1]) < gap * 0.35 for tv in tags)


# ticks (labels fully covered by a price tag are left blank, as on screen)
ax_vix.set_xticks([])
ax_spx.set_xticks([])
ax_vix.set_yticks(vix_ticks)
ax_vix.set_yticklabels([f'{v:.2f}' for v in vix_ticks])
ax_vix.tick_params(axis='y', length=0, pad=11.5, labelsize=AX_FS, labelcolor=TEXT)
ax_spx.set_yticks(spx_ticks)
ax_spx.set_yticklabels(['' if (v > 7590 or hidden_by_tag(v, spx_levels, ax_spx))
                        else f'{v:,.2f}' for v in spx_ticks])
ax_spx.tick_params(axis='y', length=0, pad=12.2, labelsize=AX_FS, labelcolor=TEXT)
ax_rsi.yaxis.tick_right()
ax_rsi.set_yticks(rsi_ticks)
ax_rsi.set_yticklabels(['' if hidden_by_tag(v, [rsi_last, rsi_ma_last], ax_rsi)
                        else f'{v:.2f}' for v in rsi_ticks])
ax_rsi.tick_params(axis='y', length=0, pad=12.2, labelsize=AX_FS, labelcolor=TEXT)
ax_rsi.set_xticks(time_ticks)
ax_rsi.set_xticklabels(time_labels)
ax_rsi.tick_params(axis='x', length=0, pad=12, labelsize=AX_FS, labelcolor=TEXT)
ax_rsi.get_xticklabels()[time_labels.index('15')].set_fontweight('bold')

# series
vix_t, vix_v = np.array(vix_points).T
spx_t, spx_v = np.array(spx_points).T
ax_vix.plot(vix_t, vix_v, color=BLUE, lw=2.6, solid_joinstyle='round', zorder=3)
ax_spx.plot(spx_t, spx_v, color='#000000', lw=2.6, solid_joinstyle='round', zorder=3)
for lv in spx_levels:
    ax_spx.axhline(lv, color=ORANGE, lw=1.9, linestyle=(0, (6.5, 8.3)), zorder=4)
ax_spx.axhline(spx_last, color='#2A2E39', lw=1.0, linestyle=(0, (1.2, 2.4)), zorder=4)

# RSI pane
rsi_v = np.array(rsi_values)
rsi_t = np.linspace(rsi_span[0], rsi_span[1], len(rsi_v))
ma_v = np.array(rsi_ma_values)
ma_t = np.linspace(rsi_span[0], rsi_span[1], len(ma_v))
ax_rsi.axhspan(30, 70, color=PURPLE, alpha=0.1, lw=0, zorder=0.5)
ax_rsi.axhline(70, color='#787B86', lw=1.5, linestyle=(0, (6.5, 6.5)), zorder=1)
ax_rsi.axhline(30, color='#787B86', lw=1.5, linestyle=(0, (6.5, 6.5)), zorder=1)
ax_rsi.axhline(50, color='#787B86', lw=1.5, alpha=0.5, linestyle=(0, (6.5, 6.5)), zorder=1)

over = ax_rsi.fill_between(rsi_t, rsi_v, 70, where=rsi_v > 70, interpolate=True,
                           color='none', lw=0)
paths = over.get_paths()
if paths:
    clip = Path.make_compound_path(*paths)
    gcmap = LinearSegmentedColormap.from_list(
        'ob', [(0.298, 0.686, 0.314, 0.0), (0.298, 0.686, 0.314, 0.85)])
    grad = np.linspace(0, 1, 256).reshape(-1, 1)
    im = ax_rsi.imshow(grad, extent=[XLIM[0], XLIM[1], 70, 100], origin='lower',
                       aspect='auto', cmap=gcmap, zorder=1.5, interpolation='bilinear')
    im.set_clip_path(clip, transform=ax_rsi.transData)
ax_rsi.set_xlim(*XLIM)
ax_rsi.set_ylim(16.3, 102.9)
ax_rsi.plot(rsi_t, rsi_v, color=PURPLE, lw=1.4, zorder=3)
ax_rsi.plot(ma_t, ma_v, color=YELLOW, lw=1.3, zorder=4)

# ---------------- chrome ----------------
pbox(18, 48, 2542, 1399, fc='none', ec=BORDER, r=8, lw=1.5, z=0.5)
fig.add_artist(Line2D([18, 2542], [H - 1005, H - 1005], color=BORDER, lw=1.5, transform=PX))

ptext(18, 30, header, fontsize=HDR_FS, color=TEXT, va='center', ha='left')

pbox(25, 56, 104, 102, fc='white', ec=BORDER, r=8, lw=1.2, z=2)
ptext(65, 79, 'point', fontsize=LEG_FS, color=TEXT, va='center', ha='center', zorder=4)
pbox(2420, 55, 2534, 101, fc='white', ec=BORDER, r=8, lw=1.2, z=2)
ptext(2438, 78, 'USD', fontsize=LEG_FS, color=TEXT, va='center', ha='left', zorder=4)

LX = 124
ptext(LX, 78, 'S&P 500 Index · 1 · SPCFD', fontsize=LEG_FS, color=TEXT, va='center')
ptext(LX + 280, 78, f'{spx_last:,.2f}', fontsize=LEG_FS, color=TEXT, va='center')
ptext(LX + 379, 78, '\u22120.03 (\u22120.00%)', fontsize=LEG_FS, color=TEXT, va='center')
ptext(LX, 108, 'VIX1D · CBOE', fontsize=LEG_FS, color=TEXT, va='center')
ptext(LX + 157, 108, f'{vix_last:.2f}', fontsize=LEG_FS, color=BLUE, va='center')
ptext(LX + 222, 108, '\u22120.02 (\u22120.15%)', fontsize=LEG_FS, color=BLUE, va='center')

ptext(126, 1034, 'RSI (14, close)', fontsize=LEG_FS, color=TEXT, va='center')
ptext(284, 1034, f'{rsi_last:.2f}', fontsize=LEG_FS, color=PURPLE, va='center')
ptext(352, 1034, f'{rsi_ma_last:.2f}', fontsize=LEG_FS, color='#F5C518', va='center')


def text_w(s):
    t = fig.text(0, 0, s, fontsize=AX_FS)
    w = t.get_window_extent(renderer=renderer).width
    t.remove()
    return w


def right_tag(yc, s, fc, tc):
    # yc: top-origin pixel centre
    w = text_w(s)
    pbox(2414, yc - 15, 2430 + w + 11, yc + 15, fc=fc, r=3, z=2)
    ptext(2430, yc, s, fontsize=AX_FS, color=tc, va='center_baseline', ha='left', zorder=4)


def y_top(ax, v):
    return H - ax.transData.transform((0, v))[1]


last_y = y_top(ax_spx, spx_last)
for lv in spx_levels:
    yc = y_top(ax_spx, lv)
    if abs(yc - last_y) < 31:
        yc = last_y - 31 if yc < last_y else last_y + 31
    right_tag(yc, f'{lv:,.2f}', ORANGE, TEXT)
right_tag(last_y, f'{spx_last:,.2f}', '#000000', 'white')
right_tag(y_top(ax_rsi, rsi_last), f'{rsi_last:.2f}', PURPLE, 'white')
right_tag(y_top(ax_rsi, rsi_ma_last), f'{rsi_ma_last:.2f}', YELLOW, TEXT)

vy = y_top(ax_vix, vix_last)
pbox(25, vy - 15, 109, vy + 15, fc=BLUE, r=3, z=2)
ptext(94, vy, f'{vix_last:.2f}', fontsize=AX_FS, color='white', va='center_baseline', ha='right', zorder=4)

# Z / A buttons
for cx, s in ((65, 'Z'), (2477, 'A')):
    fig.add_artist(Circle((cx, H - 1375), 17, fc='#F0F1F3', ec='none', transform=PX))
    ptext(cx, 1375, s, fontsize=LEG_FS * 0.95, color='#6A6D78', va='center', ha='center', zorder=4)

# TradingView logo
logo = '#131722'
fig.add_artist(Rectangle((22, H - 1449), 26, 11, fc=logo, ec='none', transform=PX))
fig.add_artist(Rectangle((34, H - 1466), 14, 28, fc=logo, ec='none', transform=PX))
fig.add_artist(Circle((56, H - 1444), 6, fc=logo, ec='none', transform=PX))
fig.add_artist(Polygon([(57, H - 1466), (70, H - 1466), (81, H - 1438), (68, H - 1438)],
                       closed=True, fc=logo, ec='none', transform=PX))
TV_FS = fit_size('TradingView', 217, weight='bold')
ptext(87, 1452, 'TradingView', fontsize=TV_FS, fontweight='bold', color=logo, va='center', ha='left')

fig.savefig('out.png', dpi=100, facecolor='white')
